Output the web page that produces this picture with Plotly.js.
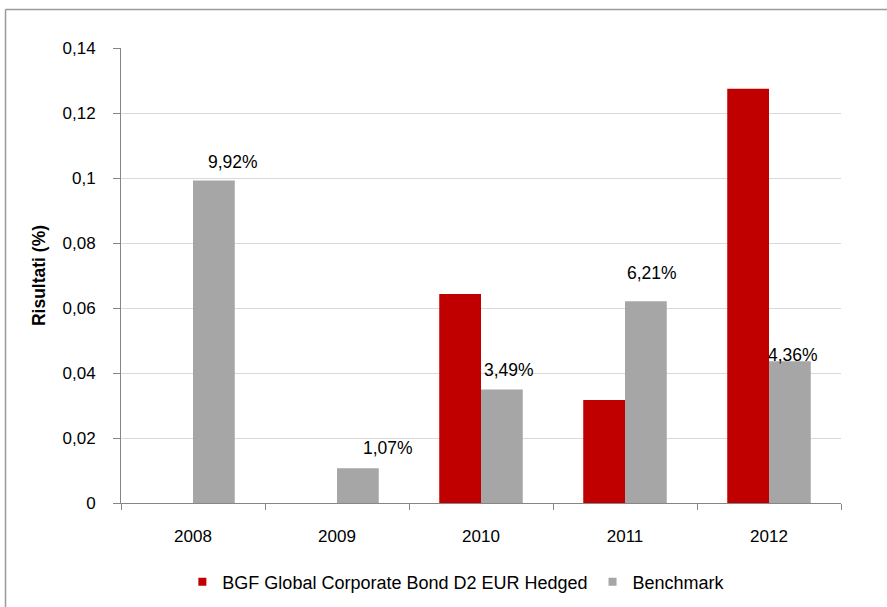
<!DOCTYPE html>
<html>
<head>
<meta charset="utf-8">
<script src="https://cdn.plot.ly/plotly-3.0.1.min.js"></script>
<style>html,body{margin:0;padding:0;background:#fff;}#chart{width:887px;height:607px;}</style>
</head>
<body>
<div id="chart"></div>
<script>
// Data
var years = ['2008', '2009', '2010', '2011', '2012'];
var fundValues = [null, null, 0.0643, 0.0317, 0.1275];
var benchmarkValues = [0.0992, 0.0107, 0.0349, 0.0621, 0.0436];
var benchmarkLabels = ['9,92%', '1,07%', '3,49%', '6,21%', '4,36%'];
var fundName = 'BGF Global Corporate Bond D2 EUR Hedged';
var benchName = 'Benchmark';

// Label placement (pixel offsets from category centre / bar top)
var labelDx = [40, 51, 28, 27, 24];
var labelDy = [19, 20, 20, 28, 6];

var font = 'Arial, "Liberation Sans", sans-serif';
var red = '#c00000', grey = '#a6a6a6';

var traces = [
  {type: 'bar', name: fundName, x: years, y: fundValues,
   marker: {color: red}, hoverinfo: 'skip', showlegend: false, legendgroup: 'f'},
  {type: 'bar', name: benchName, x: years, y: benchmarkValues,
   marker: {color: grey}, hoverinfo: 'skip', showlegend: false, legendgroup: 'b'},
  // legend-only entries (small square keys as in the original)
  {type: 'scatter', mode: 'markers', name: fundName, x: [null], y: [null],
   marker: {symbol: 'square', size: 8, color: red}, legendgroup: 'f', hoverinfo: 'skip'},
  {type: 'scatter', mode: 'markers', name: benchName, x: [null], y: [null],
   marker: {symbol: 'square', size: 8, color: grey}, legendgroup: 'b', hoverinfo: 'skip'}
];

var annotations = years.map(function (yr, i) {
  return {x: i, y: benchmarkValues[i], xref: 'x', yref: 'y',
    text: benchmarkLabels[i], showarrow: false,
    xanchor: 'center', yanchor: 'middle',
    xshift: labelDx[i], yshift: labelDy[i],
    font: {family: font, size: 17.5, color: '#000'}};
});

var layout = {
  width: 887, height: 607,
  margin: {l: 121, r: 46, t: 48, b: 104, autoexpand: false},
  paper_bgcolor: '#fff', plot_bgcolor: '#fff',
  separators: ', ',
  barmode: 'group', bargap: 0.42, bargroupgap: 0,
  font: {family: font, size: 17, color: '#000'},
  showlegend: true,
  legend: {orientation: 'h', xref: 'container', yref: 'container',
    x: 0.5145, xanchor: 'center', y: 0.041, yanchor: 'middle',
    font: {family: font, size: 18, color: '#000'}, itemwidth: 30, traceorder: 'normal'},
  xaxis: {type: 'category', range: [-0.5, 4.5], autorange: false, automargin: false,
    showgrid: false, showline: true, linecolor: '#868686', linewidth: 1,
    ticks: 'outside', tickson: 'boundaries', ticklen: 6, tickcolor: '#868686', tickangle: 0,
    ticklabelstandoff: 18, tickfont: {family: font, size: 17, color: '#000'}},
  yaxis: {range: [0, 0.14], autorange: false, automargin: false, dtick: 0.02, tick0: 0,
    showgrid: true, gridcolor: '#d9d9d9', gridwidth: 1,
    zeroline: false, showline: true, linecolor: '#868686', linewidth: 1,
    ticks: 'outside', ticklen: 7, tickcolor: '#868686', ticklabelstandoff: 14,
    tickfont: {family: font, size: 17, color: '#000'},
    title: {text: '<b>Risultati (%)</b>', font: {family: font, size: 17.5, color: '#000'}, standoff: 12}},
  annotations: annotations,
  shapes: [
    {type: 'line', xref: 'paper', yref: 'paper', x0: -0.1604, x1: 1.2, y0: 1.0846, y1: 1.0846,
     line: {color: '#9a9a9a', width: 1.5}},
    {type: 'line', xref: 'paper', yref: 'paper', x0: -0.1604, x1: -0.1604, y0: 1.0846, y1: -0.3,
     line: {color: '#9a9a9a', width: 1.5}}
  ]
};

Plotly.newPlot('chart', traces, layout, {displayModeBar: false, staticPlot: true});
</script>
</body>
</html>
